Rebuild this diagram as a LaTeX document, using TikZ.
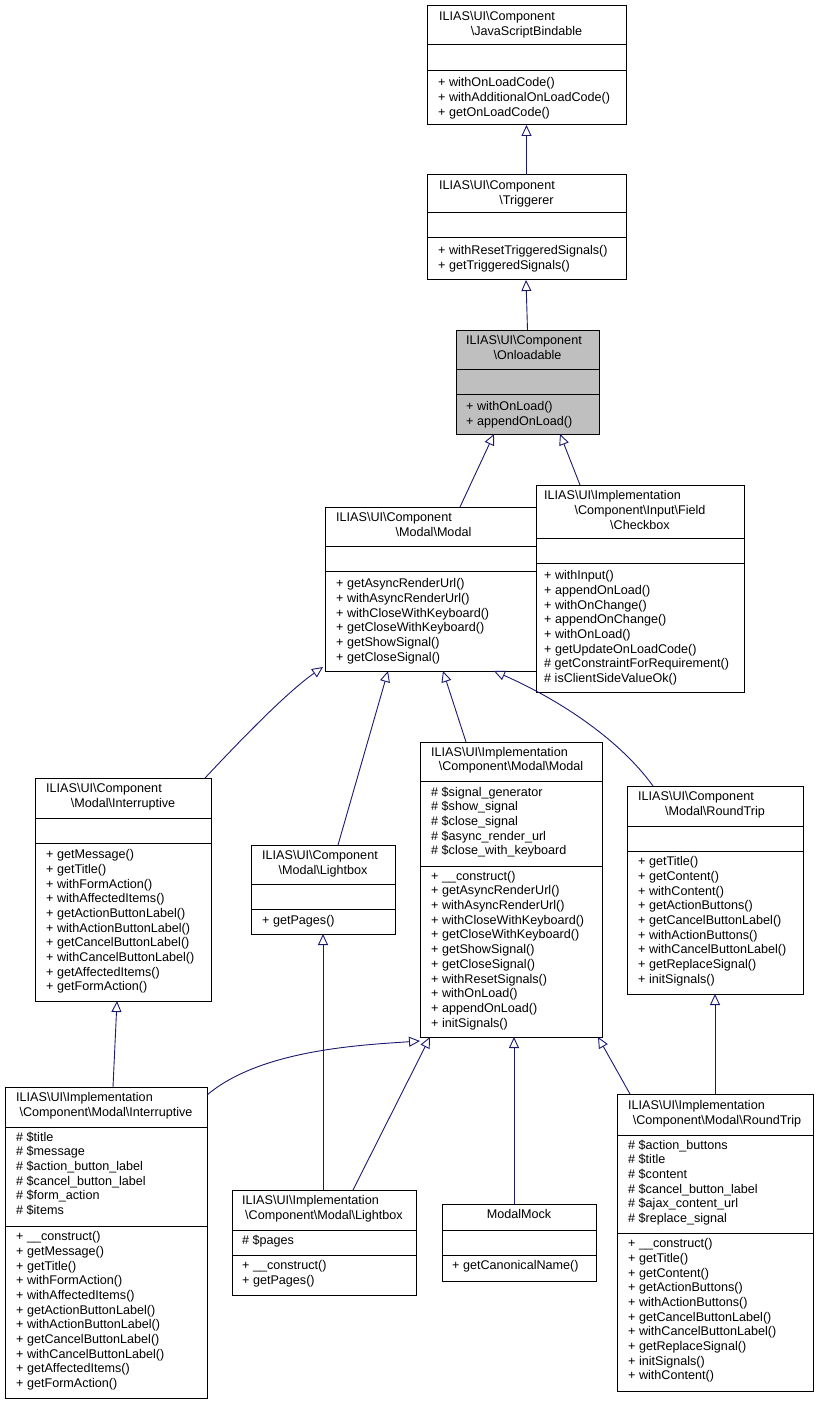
\documentclass[tikz,border=0pt]{standalone}
\usepackage{fontspec}
\setmainfont{Liberation Sans}
\usetikzlibrary{arrows.meta}
\definecolor{edgec}{HTML}{191970}
\newcommand\bs{\textbackslash}
\tikzset{
 box/.style={draw=black,line width=1pt,inner sep=0pt,outer sep=0pt,anchor=north west},
 sep/.style={draw=black,line width=1pt},
 txt/.style={inner sep=0pt,font=\fontsize{12.6}{14}\selectfont},
 edge/.style={draw=edgec,line width=0.9pt,-{Triangle[open,length=11pt,width=10pt]}}
}
% box: name, x1,y1,x2,y2, fill
\newcommand\cls[6]{\node[box,fill=#6,minimum width={#4-#2},minimum height={#5-#3}] (#1) at (#2,#3) {};}
\newcommand\hsep[3]{\draw[sep] (#1,#3) -- (#2,#3);}
% left-aligned lines: x, y, list
\newcommand\lft[3]{\foreach \t [count=\i from 0] in {#3} {\node[txt,anchor=mid west] at ({#1},{#2+\i*14.7}) {\t};}}
\newcommand\ctr[3]{\foreach \t [count=\i from 0] in {#3} {\node[txt,anchor=mid] at ({#1},{#2+\i*14.7}) {\t};}}
\begin{document}
\begin{tikzpicture}[x=1pt,y=-1pt]
\useasboundingbox (0,0) rectangle (819,1404);
% JavaScriptBindable
\cls{jsb}{427}{6}{626}{125}{white}
\lft{439}{18}{ILIAS\bs UI\bs Component}
\ctr{526.5}{32.7}{\bs JavaScriptBindable}
\hsep{427}{626}{45}\hsep{427}{626}{71}
\lft{438}{84}{+ withOnLoadCode(),+ withAdditionalOnLoadCode(),+ getOnLoadCode()}
% Triggerer
\cls{trig}{427}{175}{626}{280}{white}
\lft{439}{187}{ILIAS\bs UI\bs Component}
\ctr{526.5}{201.7}{\bs Triggerer}
\hsep{427}{626}{213}\hsep{427}{626}{238}
\lft{438}{252}{+ withResetTriggeredSignals(),+ getTriggeredSignals()}
% Onloadable
\cls{onl}{456}{330}{599}{434}{black!25}
\lft{466}{342}{ILIAS\bs UI\bs Component}
\ctr{527.5}{356.7}{\bs Onloadable}
\hsep{456}{599}{369}\hsep{456}{599}{394}
\lft{466}{408}{+ withOnLoad(),+ appendOnLoad()}
% Modal\Modal
\cls{modal}{325}{507}{542}{671}{white}
\lft{336}{519}{ILIAS\bs UI\bs Component}
\ctr{433.5}{533.7}{\bs Modal\bs Modal}
\hsep{325}{542}{546}\hsep{325}{542}{571}
\lft{336}{585}{+ getAsyncRenderUrl(),+ withAsyncRenderUrl(),+ withCloseWithKeyboard(),+ getCloseWithKeyboard(),+ getShowSignal(),+ getCloseSignal()}
% Checkbox
\cls{chk}{536}{485}{744}{692}{white}
\lft{544}{497}{ILIAS\bs UI\bs Implementation}
\ctr{640}{511.7}{\bs Component\bs Input\bs Field,\bs Checkbox}
\hsep{536}{744}{538}\hsep{536}{744}{563}
\lft{544}{577}{+ withInput(),+ appendOnLoad(),+ withOnChange(),+ appendOnChange(),+ withOnLoad(),+ getUpdateOnLoadCode(),\# getConstraintForRequirement(),\# isClientSideValueOk()}
% Interruptive component
\cls{intr}{35}{778}{211}{1001}{white}
\lft{46}{790}{ILIAS\bs UI\bs Component}
\ctr{123}{804.7}{\bs Modal\bs Interruptive}
\hsep{35}{211}{818}\hsep{35}{211}{843}
\lft{46}{856}{+ getMessage(),+ getTitle(),+ withFormAction(),+ withAffectedItems(),+ getActionButtonLabel(),+ withActionButtonLabel(),+ getCancelButtonLabel(),+ withCancelButtonLabel(),+ getAffectedItems(),+ getFormAction()}
% Lightbox component
\cls{lbox}{251}{845}{395}{934}{white}
\lft{262}{857}{ILIAS\bs UI\bs Component}
\ctr{323}{871.7}{\bs Modal\bs Lightbox}
\hsep{251}{395}{884}\hsep{251}{395}{909}
\lft{262}{922}{+ getPages()}
% Implementation Modal
\cls{imod}{420}{742}{602}{1037}{white}
\lft{431}{753.5}{ILIAS\bs UI\bs Implementation}
\ctr{511}{768.2}{\bs Component\bs Modal\bs Modal}
\hsep{420}{602}{781}
\lft{431}{793.5}{\# \$signal\_generator,\# \$show\_signal,\# \$close\_signal,\# \$async\_render\_url,\# \$close\_with\_keyboard}
\hsep{420}{602}{866}
\lft{431}{877.5}{+ \_\_construct(),+ getAsyncRenderUrl(),+ withAsyncRenderUrl(),+ withCloseWithKeyboard(),+ getCloseWithKeyboard(),+ getShowSignal(),+ getCloseSignal(),+ withResetSignals(),+ withOnLoad(),+ appendOnLoad(),+ initSignals()}
% RoundTrip component
\cls{rtrip}{627}{786}{803}{994}{white}
\lft{638}{798}{ILIAS\bs UI\bs Component}
\ctr{715}{812.7}{\bs Modal\bs RoundTrip}
\hsep{627}{803}{826}\hsep{627}{803}{851}
\lft{638}{863}{+ getTitle(),+ getContent(),+ withContent(),+ getActionButtons(),+ getCancelButtonLabel(),+ withActionButtons(),+ withCancelButtonLabel(),+ getReplaceSignal(),+ initSignals()}
% Impl Interruptive
\cls{iintr}{5}{1087}{207}{1398}{white}
\lft{16}{1099}{ILIAS\bs UI\bs Implementation}
\ctr{106}{1113.7}{\bs Component\bs Modal\bs Interruptive}
\hsep{5}{207}{1127}
\lft{16}{1138.5}{\# \$title,\# \$message,\# \$action\_button\_label,\# \$cancel\_button\_label,\# \$form\_action,\# \$items}
\hsep{5}{207}{1226}
\lft{16}{1238}{+ \_\_construct(),+ getMessage(),+ getTitle(),+ withFormAction(),+ withAffectedItems(),+ getActionButtonLabel(),+ withActionButtonLabel(),+ getCancelButtonLabel(),+ withCancelButtonLabel(),+ getAffectedItems(),+ getFormAction()}
% Impl Lightbox
\cls{ilbox}{232}{1190}{416}{1295}{white}
\lft{242}{1202}{ILIAS\bs UI\bs Implementation}
\ctr{324}{1216.7}{\bs Component\bs Modal\bs Lightbox}
\hsep{232}{416}{1230}
\lft{242}{1242}{\# \$pages}
\hsep{232}{416}{1255}
\lft{242}{1267}{+ \_\_construct(),+ getPages()}
% ModalMock
\cls{mock}{442}{1204}{596}{1281}{white}
\ctr{519}{1216}{ModalMock}
\hsep{442}{596}{1230}\hsep{442}{596}{1255}
\lft{452}{1267}{+ getCanonicalName()}
% Impl RoundTrip
\cls{irt}{617}{1094}{813}{1391}{white}
\lft{628}{1107}{ILIAS\bs UI\bs Implementation}
\ctr{717}{1121.7}{\bs Component\bs Modal\bs RoundTrip}
\hsep{617}{813}{1135}
\lft{628}{1146.5}{\# \$action\_buttons,\# \$title,\# \$content,\# \$cancel\_button\_label,\# \$ajax\_content\_url,\# \$replace\_signal}
\hsep{617}{813}{1233}
\lft{628}{1245}{+ \_\_construct(),+ getTitle(),+ getContent(),+ getActionButtons(),+ withActionButtons(),+ getCancelButtonLabel(),+ withCancelButtonLabel(),+ getReplaceSignal(),+ initSignals(),+ withContent()}
% edges
\draw[edge] (trig.north) -- (jsb.south);
\draw[edge] (onl.north) -- ([xshift=-0.5pt]trig.south);
\draw[edge] ([xshift=135pt]modal.north west) -- ([xshift=38pt]onl.south west);
\draw[edge] ([xshift=44pt]chk.north west) -- ([xshift=104pt]onl.south west);
\draw[edge] ([xshift=170pt]intr.north west) .. controls (250,730) and (290,690) .. ([xshift=-2pt,yshift=4pt]modal.south west);
\draw[edge] ([xshift=87pt]lbox.north west) -- ([xshift=63pt]modal.south west);
\draw[edge] ([xshift=46pt]imod.north west) -- ([xshift=118pt]modal.south west);
\draw[edge] ([xshift=26pt]rtrip.north west) .. controls (620,740) and (560,700) .. ([xshift=169pt]modal.south west);
\draw[edge] ([xshift=108pt]iintr.north west) -- ([xshift=82pt]intr.south west);
\draw[edge] ([xshift=91pt]ilbox.north west) -- (lbox.south);
\draw[edge] ([yshift=-8pt]iintr.north east) .. controls (260,1050) and (360,1045) .. ([yshift=-4pt]imod.south west);
\draw[edge] ([xshift=121pt]ilbox.north west) -- ([xshift=10pt]imod.south west);
\draw[edge] ([xshift=72pt]mock.north west) -- ([xshift=94pt]imod.south west);
\draw[edge] ([xshift=13pt]irt.north west) -- ([xshift=178pt]imod.south west);
\draw[edge] ([xshift=98pt]irt.north west) -- ([xshift=88pt]rtrip.south west);
\end{tikzpicture}
\end{document}
